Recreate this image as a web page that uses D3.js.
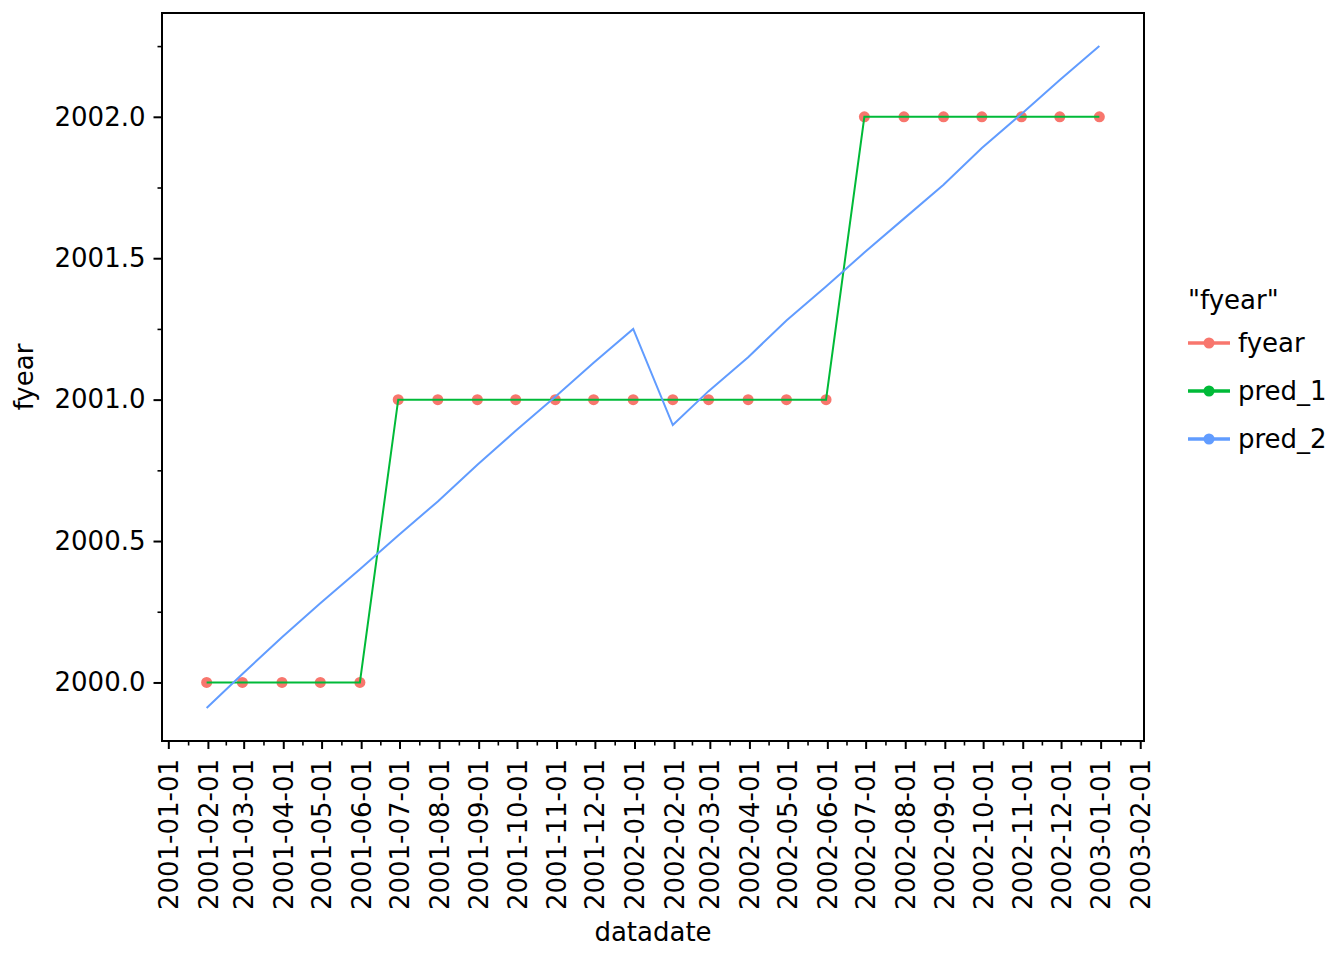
<!DOCTYPE html>
<html>
<head>
  <meta charset="utf-8">
  <script src="https://d3js.org/d3.v7.min.js"></script>
  <style>
    body { margin: 0; background: #fff; }
    text { font-family: "DejaVu Sans", sans-serif; fill: #000; }
  </style>
</head>
<body>
  <script>
    // month-end observation dates
    const dates = [
      "2001-01-31", "2001-02-28", "2001-03-31", "2001-04-30", "2001-05-31", "2001-06-30",
      "2001-07-31", "2001-08-31", "2001-09-30", "2001-10-31", "2001-11-30", "2001-12-31",
      "2002-01-31", "2002-02-28", "2002-03-31", "2002-04-30", "2002-05-31", "2002-06-30",
      "2002-07-31", "2002-08-31", "2002-09-30", "2002-10-31", "2002-11-30", "2002-12-31"
    ];
    const fyear = [
      2000, 2000, 2000, 2000, 2000, 2001, 2001, 2001, 2001, 2001, 2001, 2001,
      2001, 2001, 2001, 2001, 2001, 2002, 2002, 2002, 2002, 2002, 2002, 2002
    ];
    const pred1 = [
      2000, 2000, 2000, 2000, 2000, 2001, 2001, 2001, 2001, 2001, 2001, 2001,
      2001, 2001, 2001, 2001, 2001, 2002, 2002, 2002, 2002, 2002, 2002, 2002
    ];
    const pred2 = [
      1999.91, 2000.03, 2000.16, 2000.28, 2000.40, 2000.52, 2000.64, 2000.77, 2000.89, 2001.01, 2001.13, 2001.25,
      2000.91, 2001.03, 2001.15, 2001.28, 2001.40, 2001.52, 2001.64, 2001.76, 2001.89, 2002.01, 2002.13, 2002.25
    ];
    const yTicks = [2000.0, 2000.5, 2001.0, 2001.5, 2002.0];
    const legendTitle = '"fyear"';
    const seriesNames = ["fyear", "pred_1", "pred_2"];
    const seriesColors = ["#F8766D", "#00BA38", "#619CFF"];

    const width = 1344, height = 960;
    const margin = { top: 13, right: 200, bottom: 219, left: 162 };
    const fs = 26;

    const parse = d3.timeParse("%Y-%m-%d");
    const x = dates.map(parse);

    const svg = d3.select("body").append("svg")
      .attr("width", width)
      .attr("height", height);

    // continuous scales with 5% expansion like ggplot
    const xExt = d3.extent(x);
    const xPad = (xExt[1] - xExt[0]) * 0.05;
    const xScale = d3.scaleTime()
      .domain([new Date(+xExt[0] - xPad), new Date(+xExt[1] + xPad)])
      .range([margin.left, width - margin.right]);

    const allY = fyear.concat(pred1, pred2);
    const yExt = d3.extent(allY);
    const yPad = (yExt[1] - yExt[0]) * 0.05;
    const yScale = d3.scaleLinear()
      .domain([yExt[0] - yPad, yExt[1] + yPad])
      .range([height - margin.bottom, margin.top]);

    // x axis: monthly majors, mid-month minors
    const months = d3.timeMonth.range(d3.timeMonth.ceil(xScale.domain()[0]), xScale.domain()[1]);
    const xMinor = d3.pairs(months).map(([a, b]) => new Date((+a + +b) / 2));

    const xAxis = svg.append("g")
      .attr("transform", `translate(0,${height - margin.bottom})`)
      .call(d3.axisBottom(xScale).tickValues(months).tickSize(8).tickPadding(10)
        .tickFormat(d3.timeFormat("%Y-%m-%d")));
    xAxis.select(".domain").remove();
    xAxis.selectAll(".tick line").attr("stroke-width", 2);
    xAxis.selectAll(".tick text")
      .style("font-size", fs + "px")
      .attr("transform", "rotate(-90)")
      .attr("text-anchor", "end")
      .attr("x", -18)
      .attr("y", 0)
      .attr("dy", "0.35em");

    svg.append("g")
      .attr("transform", `translate(0,${height - margin.bottom})`)
      .call(d3.axisBottom(xScale).tickValues(xMinor).tickSize(4.5).tickFormat(""))
      .call(g => g.select(".domain").remove())
      .selectAll(".tick line").attr("stroke-width", 1.6);

    // y axis
    const yMinor = [2000.25, 2000.75, 2001.25, 2001.75, 2002.25];
    const yAxis = svg.append("g")
      .attr("transform", `translate(${margin.left},0)`)
      .call(d3.axisLeft(yScale).tickValues(yTicks).tickSize(8.5).tickPadding(8)
        .tickFormat(d3.format(".1f")));
    yAxis.select(".domain").remove();
    yAxis.selectAll(".tick line").attr("stroke-width", 2);
    yAxis.selectAll(".tick text").style("font-size", fs + "px");

    svg.append("g")
      .attr("transform", `translate(${margin.left},0)`)
      .call(d3.axisLeft(yScale).tickValues(yMinor).tickSize(4.5).tickFormat(""))
      .call(g => g.select(".domain").remove())
      .selectAll(".tick line").attr("stroke-width", 1.6);

    // panel border
    svg.append("rect")
      .attr("x", margin.left)
      .attr("y", margin.top)
      .attr("width", width - margin.left - margin.right)
      .attr("height", height - margin.top - margin.bottom)
      .attr("fill", "none")
      .attr("stroke", "#000")
      .attr("stroke-width", 2);

    const plot = svg.append("g");

    // fyear points
    plot.selectAll("circle.fyear")
      .data(x)
      .join("circle")
      .attr("class", "fyear")
      .attr("cx", d => xScale(d))
      .attr("cy", (d, i) => yScale(fyear[i]))
      .attr("r", 5.5)
      .attr("fill", seriesColors[0]);

    const line = d3.line()
      .x((d, i) => xScale(x[i]))
      .y(d => yScale(d));

    plot.append("path")
      .datum(pred1)
      .attr("d", line)
      .attr("fill", "none")
      .attr("stroke", seriesColors[1])
      .attr("stroke-width", 2);

    plot.append("path")
      .datum(pred2)
      .attr("d", line)
      .attr("fill", "none")
      .attr("stroke", seriesColors[2])
      .attr("stroke-width", 2);

    // axis titles
    svg.append("text")
      .attr("x", (margin.left + width - margin.right) / 2)
      .attr("y", 941)
      .attr("text-anchor", "middle")
      .style("font-size", fs + "px")
      .text("datadate");

    svg.append("text")
      .attr("transform", `translate(33,${(margin.top + height - margin.bottom) / 2}) rotate(-90)`)
      .attr("text-anchor", "middle")
      .style("font-size", fs + "px")
      .text("fyear");

    // legend
    const legend = svg.append("g").attr("transform", "translate(1188,0)");
    legend.append("text")
      .attr("x", 0)
      .attr("y", 309)
      .style("font-size", fs + "px")
      .text(legendTitle);

    const item = legend.selectAll("g.item")
      .data(seriesNames)
      .join("g")
      .attr("class", "item")
      .attr("transform", (d, i) => `translate(0,${343 + i * 48})`);
    item.append("line")
      .attr("x1", 0).attr("x2", 42)
      .attr("stroke", (d, i) => seriesColors[i])
      .attr("stroke-width", 3.5);
    item.append("circle")
      .attr("cx", 21)
      .attr("r", 5.5)
      .attr("fill", (d, i) => seriesColors[i]);
    item.append("text")
      .attr("x", 50)
      .attr("dy", "0.35em")
      .style("font-size", fs + "px")
      .text(d => d);
  </script>
</body>
</html>
